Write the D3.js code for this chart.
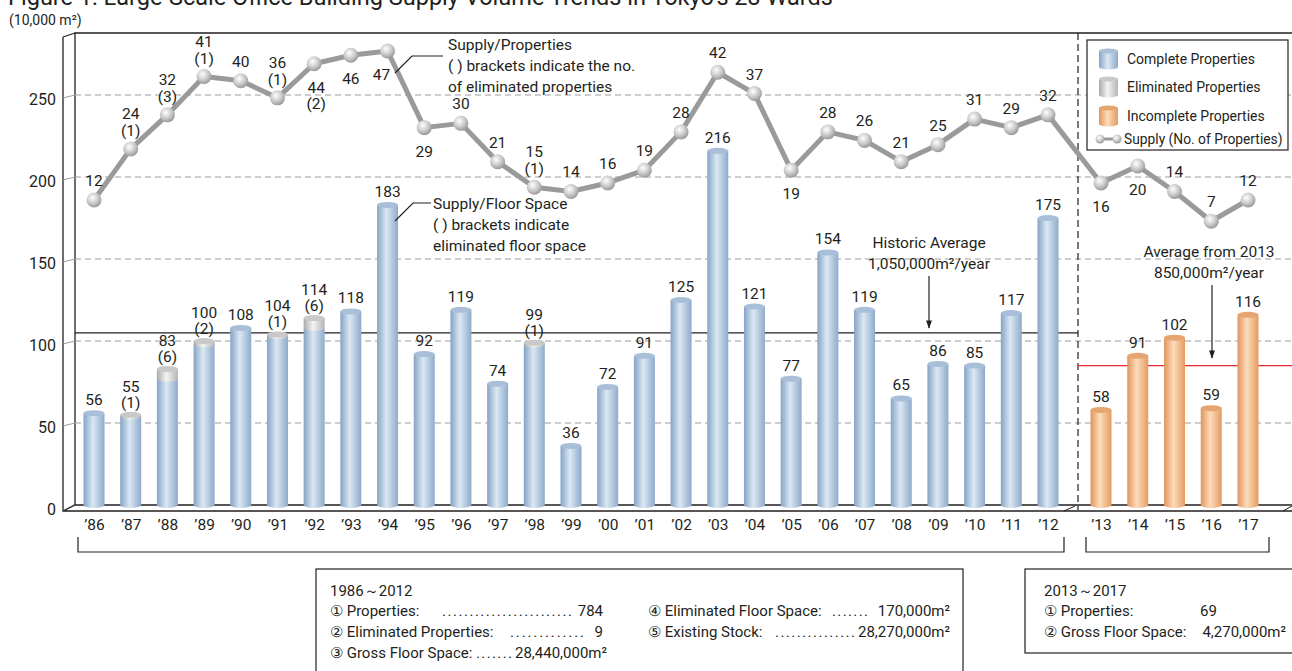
<!DOCTYPE html>
<html>
<head>
<meta charset="utf-8">
<script src="https://cdn.jsdelivr.net/npm/d3@7"></script>
<style>
  body { margin: 0; background: #fff; }
  svg text { font-family: Roboto, "Noto Sans", sans-serif; fill: #231f20; }
</style>
</head>
<body>
<svg id="drawing_region"></svg>
<script>
// years (two periods)
var years_a = ['86','87','88','89','90','91','92','93','94','95','96','97','98','99','00','01','02','03','04','05','06','07','08','09','10','11','12'];
var years_b = ['13','14','15','16','17'];
// supply floor space (10,000 m2)
var floor_a = [56,55,83,100,108,104,114,118,183,92,119,74,99,36,72,91,125,216,121,77,154,119,65,86,85,117,175];
var floor_b = [58,91,102,59,116];
// eliminated floor space (10,000 m2)
var elim_a = [0,1,6,2,0,1,6,0,0,0,0,0,1,0,0,0,0,0,0,0,0,0,0,0,0,0,0];
// supply / number of properties
var props_a = [12,24,32,41,40,36,44,46,47,29,30,21,15,14,16,19,28,42,37,19,28,26,21,25,31,29,32];
var props_b = [16,20,14,7,12];
// eliminated properties
var elimProps_a = [0,1,3,1,0,1,2,0,0,0,0,0,1,0,0,0,0,0,0,0,0,0,0,0,0,0,0];
var yTicks = [0,50,100,150,200,250];
var avgHist = 105, avgNew = 85;

// label placement for the line (years where the number sits below the point)
var belowYears = ['92','93','94','95','05','13','14'];

const W = 1292, H = 671;
const svg = d3.select('#drawing_region').attr('width', W).attr('height', H);
const defs = svg.append('defs');

function grad(id, c0, c1, c2){
  const g = defs.append('linearGradient').attr('id', id).attr('x1','0%').attr('x2','100%');
  g.append('stop').attr('offset','0%').attr('stop-color', c0);
  g.append('stop').attr('offset','45%').attr('stop-color', c1);
  g.append('stop').attr('offset','100%').attr('stop-color', c2);
}
grad('gBlue', '#86a3c6', '#dbe8f3', '#8eaacb');
grad('gGrey', '#a9a9a9', '#f4f4f4', '#b4b4b4');
grad('gOrange', '#e2955a', '#fddcbc', '#e49b5f');
const rg = defs.append('radialGradient').attr('id','gBall').attr('cx','40%').attr('cy','35%').attr('r','65%');
rg.append('stop').attr('offset','0%').attr('stop-color','#ffffff');
rg.append('stop').attr('offset','60%').attr('stop-color','#c8c8c8');
rg.append('stop').attr('offset','100%').attr('stop-color','#9a9a9a');
defs.append('marker').attr('id','arrow').attr('viewBox','0 0 10 10').attr('refX',9).attr('refY',5)
  .attr('markerWidth',7).attr('markerHeight',9).attr('orient','auto')
  .append('path').attr('d','M0,1.5 L10,5 L0,8.5 Z').attr('fill','#231f20');

// scales
const xa = d3.scalePoint().domain(years_a).range([94, 1048]);
const xb = d3.scalePoint().domain(years_b).range([1101, 1248]);
const y = d3.scaleLinear().domain([0, 250]).range([505, 95]);
const yl = d3.scaleLinear().domain([12, 47]).range([200, 51]);

const leftX = 75, rightX = 1292, topY = 33, sepX = 1078;

// title & unit
svg.append('text').attr('x', 8).attr('y', 5).attr('font-size', 23.5)
  .text("Figure 1: Large-Scale Office Building Supply Volume Trends in Tokyo\u2019s 23 Wards");
svg.append('text').attr('x', 9).attr('y', 25).attr('font-size', 14).text('(10,000 m\u00b2)');

// frame
const frame = svg.append('g').attr('stroke', '#231f20').attr('fill', 'none');
frame.append('path').attr('d', `M${leftX},${y(0)} V${topY} H${rightX}`).attr('stroke-width', 1.3);
frame.append('path').attr('d', `M63,37 L${leftX},${topY} M63,37 V511 H${rightX} M63,511 L${leftX},${y(0)} H${rightX}`).attr('stroke-width', 1.3);
frame.append('path').attr('d', `M1064,511 L1075,506 M1283,511 L1292,506`).attr('stroke-width', 1);

// grid lines
yTicks.filter(d => d > 0).forEach(d => {
  svg.append('line').attr('x1', leftX).attr('x2', rightX).attr('y1', y(d)).attr('y2', y(d))
    .attr('stroke', '#9d9d9d').attr('stroke-dasharray', '6,4').attr('stroke-width', 1);
  svg.append('line').attr('x1', 63).attr('x2', leftX).attr('y1', y(d) + 3).attr('y2', y(d))
    .attr('stroke', '#9d9d9d').attr('stroke-width', 1);
});

// y axis labels
const yaxis = d3.axisLeft(y).tickValues(yTicks).tickSize(0).tickPadding(0);
svg.append('g').attr('transform', 'translate(56,4)').call(yaxis)
  .call(g => g.select('.domain').remove())
  .selectAll('text').attr('font-size', 16).style('font-family', 'Roboto, sans-serif').attr('fill', '#231f20');

// separator
svg.append('line').attr('x1', sepX).attr('x2', sepX).attr('y1', topY).attr('y2', 510)
  .attr('stroke', '#231f20').attr('stroke-dasharray', '7,4').attr('stroke-width', 1.2);

// average lines
svg.append('line').attr('x1', leftX).attr('x2', sepX).attr('y1', y(avgHist)).attr('y2', y(avgHist))
  .attr('stroke', '#231f20').attr('stroke-width', 1.3);
svg.append('line').attr('x1', sepX).attr('x2', rightX).attr('y1', y(avgNew)).attr('y2', y(avgNew))
  .attr('stroke', '#e8262d').attr('stroke-width', 1.2);

// cylinders
const BW = 21, RY = 3;
function cylinder(g, cx, v0, v1, fill, topFill){
  const x0 = cx - BW / 2;
  g.append('ellipse').attr('cx', cx).attr('cy', y(v0)).attr('rx', BW / 2).attr('ry', RY).attr('fill', fill);
  g.append('rect').attr('x', x0).attr('y', y(v1)).attr('width', BW).attr('height', y(v0) - y(v1)).attr('fill', fill);
  if (topFill) g.append('ellipse').attr('cx', cx).attr('cy', y(v1)).attr('rx', BW / 2).attr('ry', RY).attr('fill', topFill);
}
const bars = svg.append('g');
years_a.forEach((yr, i) => {
  const v = floor_a[i], e = elim_a[i], cx = xa(yr);
  if (e > 0) {
    cylinder(bars, cx, 0, v - e, 'url(#gBlue)', null);
    cylinder(bars, cx, v - e, v, 'url(#gGrey)', '#c9c9c9');
  } else {
    cylinder(bars, cx, 0, v, 'url(#gBlue)', '#a9bfd9');
  }
});
years_b.forEach((yr, i) => cylinder(bars, xb(yr), 0, floor_b[i], 'url(#gOrange)', '#e6a470'));

// bar labels
const blab = svg.append('g').attr('font-size', 15.5).attr('text-anchor', 'middle');
years_a.forEach((yr, i) => {
  const t = y(floor_a[i]) - RY;
  if (elim_a[i] > 0) {
    blab.append('text').attr('x', xa(yr)).attr('y', t - 20).text(floor_a[i]);
    blab.append('text').attr('x', xa(yr)).attr('y', t - 4).text('(' + elim_a[i] + ')');
  } else {
    blab.append('text').attr('x', xa(yr)).attr('y', t - 5).text(floor_a[i]);
  }
});
years_b.forEach((yr, i) => blab.append('text').attr('x', xb(yr)).attr('y', y(floor_b[i]) - 8).text(floor_b[i]));

// supply line
const pts = years_a.map((yr, i) => ({yr: yr, x: xa(yr), v: props_a[i], e: elimProps_a[i]}))
  .concat(years_b.map((yr, i) => ({yr: yr, x: xb(yr), v: props_b[i], e: 0})));
const line = d3.line().x(d => d.x).y(d => yl(d.v));
svg.append('path').attr('d', line(pts)).attr('fill', 'none').attr('stroke', '#9a9a9a')
  .attr('stroke-width', 5).attr('stroke-linejoin', 'round');
svg.append('g').selectAll('circle').data(pts).join('circle')
  .attr('cx', d => d.x).attr('cy', d => yl(d.v)).attr('r', 7.5).attr('fill', 'url(#gBall)');

const llab = svg.append('g').attr('font-size', 15.5).attr('text-anchor', 'middle');
pts.forEach(d => {
  const py = yl(d.v);
  const below = belowYears.indexOf(d.yr) >= 0;
  const dx = d.yr === '94' ? -6 : (d.yr === '92' ? 2 : 0);
  if (below) {
    llab.append('text').attr('x', d.x + dx).attr('y', py + 29).text(d.v);
    if (d.e > 0) llab.append('text').attr('x', d.x + dx).attr('y', py + 45).text('(' + d.e + ')');
  } else if (d.e > 0) {
    llab.append('text').attr('x', d.x).attr('y', py - 30).text(d.v);
    llab.append('text').attr('x', d.x).attr('y', py - 13).text('(' + d.e + ')');
  } else {
    llab.append('text').attr('x', d.x).attr('y', py - 14).text(d.v);
  }
});

// x axes
function xAxis(scale){
  const ax = d3.axisBottom(scale).tickSize(0).tickPadding(0).tickFormat(d => '\u2019' + d);
  svg.append('g').attr('transform', 'translate(0,519)').call(ax)
    .call(g => g.select('.domain').remove())
    .selectAll('text').attr('font-size', 15.5).style('font-family', 'Roboto, sans-serif').attr('fill', '#231f20');
}
xAxis(xa); xAxis(xb);

// period brackets
svg.append('path').attr('d', 'M78,537 V552 H1064 V537 M1086,537 V552 H1269 V537')
  .attr('fill', 'none').attr('stroke', '#231f20').attr('stroke-width', 1.2);

// annotations
const ann = svg.append('g').attr('font-size', 15.5);
ann.append('path').attr('d', 'M443,56 H412 L395,73 M431,203 H413 L395,221')
  .attr('fill', 'none').attr('stroke', '#231f20').attr('stroke-width', 1.2);
[['Supply/Properties', 50], ['( ) brackets indicate the no.', 71], ['of eliminated properties', 92]]
  .forEach(t => ann.append('text').attr('x', 448).attr('y', t[1]).text(t[0]));
[['Supply/Floor Space', 209], ['( ) brackets indicate', 230], ['eliminated floor space', 251]]
  .forEach(t => ann.append('text').attr('x', 433).attr('y', t[1]).text(t[0]));
ann.append('text').attr('x', 929).attr('y', 248).attr('text-anchor', 'middle').text('Historic Average');
ann.append('text').attr('x', 929).attr('y', 269).attr('text-anchor', 'middle').text('1,050,000m\u00b2/year');
ann.append('text').attr('x', 1209).attr('y', 257).attr('text-anchor', 'middle').text('Average from 2013');
ann.append('text').attr('x', 1209).attr('y', 278).attr('text-anchor', 'middle').text('850,000m\u00b2/year');
ann.append('line').attr('x1', 929).attr('x2', 929).attr('y1', 276).attr('y2', 328)
  .attr('stroke', '#231f20').attr('stroke-width', 1.2).attr('marker-end', 'url(#arrow)');
ann.append('line').attr('x1', 1212).attr('x2', 1212).attr('y1', 285).attr('y2', 358)
  .attr('stroke', '#231f20').attr('stroke-width', 1.2).attr('marker-end', 'url(#arrow)');

// legend
const lg = svg.append('g');
lg.append('rect').attr('x', 1087).attr('y', 40).attr('width', 201).attr('height', 110)
  .attr('fill', '#fff').attr('stroke', '#231f20').attr('stroke-width', 1.2);
[['url(#gBlue)', '#a9bfd9', 'Complete Properties', 59], ['url(#gGrey)', '#c9c9c9', 'Eliminated Properties', 87],
 ['url(#gOrange)', '#e6a470', 'Incomplete Properties', 116]].forEach(r => {
  lg.append('rect').attr('x', 1099).attr('y', r[3] - 8).attr('width', 19).attr('height', 16).attr('fill', r[0]);
  lg.append('ellipse').attr('cx', 1108.5).attr('cy', r[3] + 8).attr('rx', 9.5).attr('ry', 2.5).attr('fill', r[0]);
  lg.append('ellipse').attr('cx', 1108.5).attr('cy', r[3] - 8).attr('rx', 9.5).attr('ry', 2.5).attr('fill', r[1]);
  lg.append('text').attr('x', 1127).attr('y', r[3] + 5).attr('font-size', 14).text(r[2]);
});
lg.append('line').attr('x1', 1099).attr('x2', 1117).attr('y1', 139).attr('y2', 139).attr('stroke', '#9a9a9a').attr('stroke-width', 3);
lg.append('circle').attr('cx', 1100).attr('cy', 139).attr('r', 4.5).attr('fill', 'url(#gBall)');
lg.append('circle').attr('cx', 1117).attr('cy', 139).attr('r', 4.5).attr('fill', 'url(#gBall)');
lg.append('text').attr('x', 1124).attr('y', 144).attr('font-size', 13.8).text('Supply (No. of Properties)');

// summary boxes
const bx = svg.append('g').attr('font-size', 15);
function dots(x, yy, len){
  bx.append('text').attr('x', x).attr('y', yy).attr('textLength', len).attr('lengthAdjust', 'spacing')
    .text('.'.repeat(Math.max(3, Math.round(len / 5.5))));
}
function val(x, yy, t){ bx.append('text').attr('x', x).attr('y', yy).attr('text-anchor', 'end').text(t); }

bx.append('rect').attr('x', 316).attr('y', 569).attr('width', 647).attr('height', 120)
  .attr('fill', 'none').attr('stroke', '#231f20').attr('stroke-width', 1.2);
bx.append('text').attr('x', 330).attr('y', 596).text('1986\uff5e2012');
bx.append('text').attr('x', 330).attr('y', 616).text('\u2460 Properties:');
dots(442, 616, 130); val(603, 616, '784');
bx.append('text').attr('x', 330).attr('y', 637).text('\u2461 Eliminated Properties:');
dots(510, 637, 74); val(603, 637, '9');
bx.append('text').attr('x', 330).attr('y', 658).text('\u2462 Gross Floor Space:');
dots(476, 658, 36); val(607, 658, '28,440,000m\u00b2');
bx.append('text').attr('x', 648).attr('y', 616).text('\u2463 Eliminated Floor Space:');
dots(832, 616, 36); val(950, 616, '170,000m\u00b2');
bx.append('text').attr('x', 648).attr('y', 637).text('\u2464 Existing Stock:');
dots(775, 637, 80); val(950, 637, '28,270,000m\u00b2');

bx.append('rect').attr('x', 1025).attr('y', 569).attr('width', 290).attr('height', 84)
  .attr('fill', 'none').attr('stroke', '#231f20').attr('stroke-width', 1.2);
bx.append('text').attr('x', 1044).attr('y', 596).text('2013\uff5e2017');
bx.append('text').attr('x', 1044).attr('y', 616).text('\u2460 Properties:');
bx.append('text').attr('x', 1200).attr('y', 616).text('69');
bx.append('text').attr('x', 1044).attr('y', 637).text('\u2461 Gross Floor Space:');
val(1286, 637, '4,270,000m\u00b2');
</script>
</body>
</html>
